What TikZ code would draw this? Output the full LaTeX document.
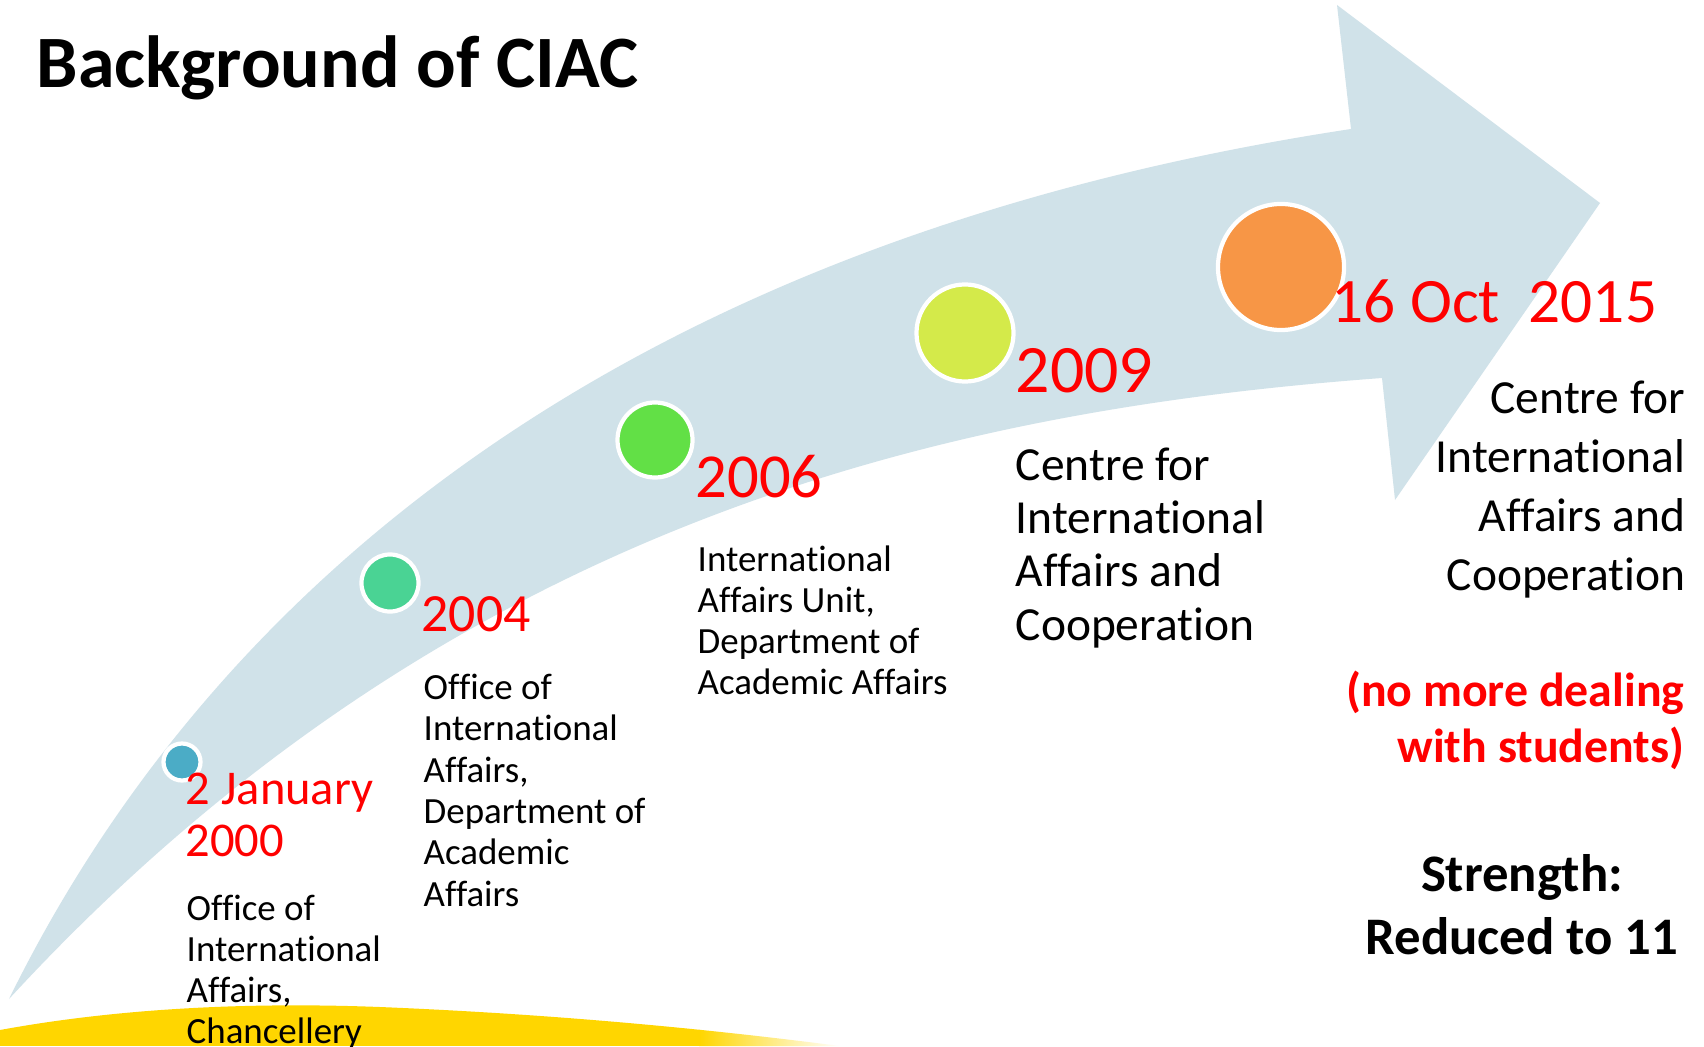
\documentclass[tikz,border=0pt]{standalone}
\usepackage{fontspec}
\setmainfont{Carlito}[Ligatures=NoCommon]
\usepackage{tikz}
\definecolor{arrowblue}{RGB}{208,226,233}
\definecolor{gold}{RGB}{255,214,0}
\definecolor{dotblue}{RGB}{75,172,198}
\definecolor{dotteal}{RGB}{74,211,148}
\definecolor{dotgreen}{RGB}{98,224,70}
\definecolor{dotlime}{RGB}{212,234,74}
\definecolor{dotorange}{RGB}{247,150,70}
\definecolor{datered}{RGB}{255,0,0}

\begin{document}
\begin{tikzpicture}[
  x=0.01cm, y=-0.01cm,
  dot/.style={circle, draw=white, line width=1.2pt, inner sep=0pt},
  yearlabel/.style={text=datered, inner sep=0pt, anchor=base west,
    align=flush left, text width=4cm},
  office/.style={inner sep=0pt, anchor=base west, align=flush left,
    text width=3cm},
  ]
  % Page
  \fill[white] (0,0) rectangle (1704,1046);
  \useasboundingbox (0,0) rectangle (1704,1046);
  % Yellow swoosh at the bottom
  \begin{scope}
    \clip (0,1046) -- (0,1030) .. controls (120,1008) and (250,1002) ..
      (380,1007) .. controls (550,1014) and (700,1028) .. (840,1046) -- cycle;
    \fill[gold] (0,990) rectangle (700,1046);
    \shade[left color=gold, right color=white] (699,990) rectangle (840,1046);
  \end{scope}
  % Curved arrow
  \fill[arrowblue] (9,999) .. controls (210,590) and (620,240) .. (1351,129)
    -- (1337,5) -- (1600,203) -- (1395,500) -- (1382,378)
    .. controls (950,410) and (450,520) .. (9,999) -- cycle;
  % Title
  \node[font={\fontsize{21}{25}\selectfont\bfseries}, anchor=base west,
    inner sep=0pt] (title) at (36,88) {Background of CIAC};
  % Circles
  \node[dot, fill=dotblue, minimum size=0.37cm] (c2000) at (182,762) {};
  \node[dot, fill=dotteal, minimum size=0.57cm] (c2004) at (390,583) {};
  \node[dot, fill=dotgreen, minimum size=0.75cm] (c2006) at (655,440) {};
  \node[dot, fill=dotlime, minimum size=0.97cm] (c2009) at (965,333) {};
  \node[dot, fill=dotorange, minimum size=1.26cm] (c2015) at (1281,267) {};
  % Dates
  \node[yearlabel, font={\fontsize{13.8}{14.8}\selectfont}] (d2000)
    at (185,804) {2 January\\2000};
  \node[yearlabel, font={\fontsize{15.3}{18}\selectfont}] (d2004)
    at (421,631) {2004};
  \node[yearlabel, font={\fontsize{17.8}{20}\selectfont}] (d2006)
    at (695,497) {2006};
  \node[yearlabel, font={\fontsize{19.3}{22}\selectfont}] (d2009)
    at (1015,393) {2009};
  \node[yearlabel, font={\fontsize{18}{21}\selectfont}] (d2015)
    at (1331,322) {16 Oct\ \ 2015};
  % Offices
  \node[office, font={\fontsize{10.5}{11.7}\selectfont}] (o2000)
    at (186,920) {Office of\\International\\Affairs,\\Chancellery};
  \node[office, font={\fontsize{10.5}{11.8}\selectfont}] (o2004)
    at (423,699) {Office of\\International\\Affairs,\\Department of\\Academic\\Affairs};
  \node[office, font={\fontsize{10.5}{11.7}\selectfont}] (o2006)
    at (697,571) {International\\Affairs Unit,\\Department of\\Academic Affairs};
  \node[office, font={\fontsize{13.5}{15.2}\selectfont}] (o2009)
    at (1015,480) {Centre for\\International\\Affairs and\\Cooperation};
  \node[office, anchor=base east, align=flush right,
    font={\fontsize{13.5}{16.8}\selectfont}] (o2015)
    at (1686,413) {Centre for\\International\\Affairs and\\Cooperation};
  % Notes
  \node[office, anchor=base east, align=flush right, text width=4cm,
    text=datered, font={\fontsize{13.6}{16}\selectfont\bfseries}] (note)
    at (1685,706) {(no more dealing\\with students)};
  \node[office, anchor=base, align=flush center, text width=4cm,
    font={\fontsize{15}{18.1}\selectfont\bfseries}] (strength)
    at (1522,891) {Strength:\\Reduced to 11};
\end{tikzpicture}
\end{document}
